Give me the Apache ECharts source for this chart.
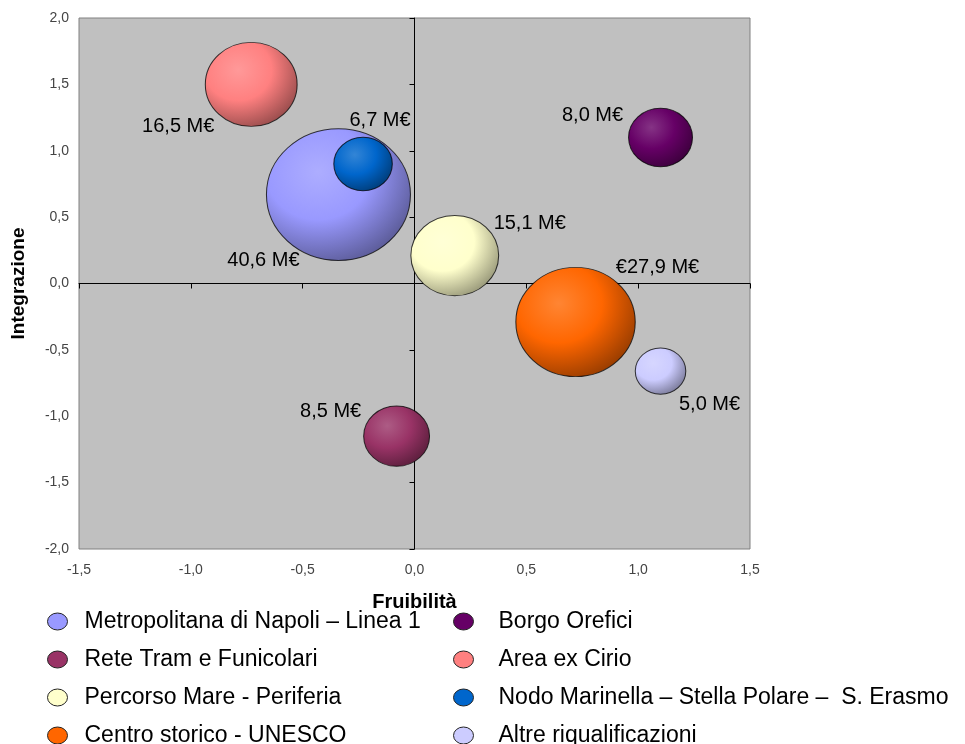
<!DOCTYPE html>
<html>
<head>
<meta charset="utf-8">
<script src="https://cdn.jsdelivr.net/npm/echarts@6/dist/echarts.min.js"></script>
<style>
  html, body { margin: 0; padding: 0; background: #fff; }
  #chart { width: 965px; height: 744px; }
</style>
</head>
<body>
<div id="chart"></div>
<script>
// dati
var progetti = ['Metropolitana di Napoli – Linea 1', 'Rete Tram e Funicolari', 'Percorso Mare - Periferia', 'Centro storico - UNESCO',
  'Borgo Orefici', 'Area ex Cirio', 'Nodo Marinella – Stella Polare –  S. Erasmo', 'Altre riqualificazioni'];
var fruibilita = [-0.34, -0.08, 0.18, 0.72, 1.10, -0.73, -0.23, 1.10];
var integrazione = [0.67, -1.15, 0.21, -0.29, 1.10, 1.50, 0.90, -0.66];
var importi = [40.6, 8.5, 15.1, 27.9, 8.0, 16.5, 6.7, 5.0];
var etichette = ['40,6 M€', '8,5 M€', '15,1 M€', '€27,9 M€', '8,0 M€', '16,5 M€', '6,7 M€', '5,0 M€'];
var xTicks = [-1.5, -1.0, -0.5, 0, 0.5, 1.0, 1.5];
var yTicks = [-2.0, -1.5, -1.0, -0.5, 0, 0.5, 1.0, 1.5, 2.0];

// stile
var colori = ['#9999ff', '#993366', '#ffffcc', '#ff6600', '#660066', '#ff8080', '#0066cc', '#ccccff'];
var spostamentiEtichette = [[-75, 66], [-66, -25], [75, -32], [82, -55], [-68, -22], [-73, 42], [17, -44], [49, 33]];

function mix(hex, target, t) {
  var a = parseInt(hex.slice(1), 16), b = parseInt(target.slice(1), 16);
  var r = Math.round(((a >> 16) & 255) * (1 - t) + ((b >> 16) & 255) * t);
  var g = Math.round(((a >> 8) & 255) * (1 - t) + ((b >> 8) & 255) * t);
  var bl = Math.round((a & 255) * (1 - t) + (b & 255) * t);
  return 'rgb(' + r + ',' + g + ',' + bl + ')';
}

function fmt(v) {
  return v.toFixed(1).replace('.', ',');
}

var chart = echarts.init(document.getElementById('chart'));

var series = progetti.map(function (nome, i) {
  return {
    name: nome,
    type: 'scatter',
    xAxisIndex: 0,
    yAxisIndex: 0,
    data: [[fruibilita[i], integrazione[i], importi[i]]],
    symbol: 'circle',
    symbolSize: function (v) {
      var w = 22.6 * Math.sqrt(v[2]);
      return [w, w * 0.915];
    },
    itemStyle: {
      opacity: 1,
      color: {
        type: 'radial', x: 0.36, y: 0.33, r: 0.72,
        colorStops: [
          { offset: 0, color: mix(colori[i], '#ffffff', 0.2) },
          { offset: 0.5, color: colori[i] },
          { offset: 1, color: mix(colori[i], '#000000', 0.4) }
        ]
      },
      borderColor: 'rgba(0,0,0,0.75)',
      borderWidth: 1
    },
    label: {
      show: true,
      position: 'inside',
      offset: spostamentiEtichette[i],
      formatter: etichette[i],
      color: '#000',
      fontSize: 20,
      fontFamily: 'Liberation Sans, Arial, sans-serif'
    },
    emphasis: { disabled: true }
  };
});

function legenda(indici, left, gap) {
  return {
    orient: 'vertical',
    left: left,
    top: 610,
    height: 140,
    padding: 0,
    itemWidth: 20,
    itemHeight: 17,
    itemGap: 15,
    symbolKeepAspect: false,
    icon: 'path://M0,8.5 A10,8.5 0 1 1 20,8.5 A10,8.5 0 1 1 0,8.5 Z',
    selectedMode: false,
    textStyle: {
      color: '#000',
      fontSize: 23,
      fontFamily: 'Liberation Sans, Arial, sans-serif',
      padding: [0, 0, 0, gap]
    },
    data: indici.map(function (i) {
      return {
        name: progetti[i],
        itemStyle: { color: colori[i], opacity: 1, borderColor: '#222', borderWidth: 1 }
      };
    })
  };
}

var option = {
  animation: false,
  grid: {
    left: 79, right: 215, top: 18, bottom: 195,
    show: true,
    backgroundColor: '#c0c0c0',
    borderColor: '#808080',
    borderWidth: 1
  },
  legend: [legenda([0, 1, 2, 3], 47, 12), legenda([4, 5, 6, 7], 453, 20)],
  xAxis: [{
    type: 'value',
    position: 'bottom',
    min: xTicks[0], max: xTicks[xTicks.length - 1], interval: 0.5,
    name: 'Fruibilità',
    nameLocation: 'middle',
    nameGap: 43,
    nameTextStyle: { color: '#000', fontSize: 20, fontWeight: 'bold', fontFamily: 'Liberation Sans, Arial, sans-serif' },
    axisLine: { show: false, onZero: false },
    axisTick: { show: false },
    splitLine: { show: false },
    axisLabel: { formatter: fmt, margin: 14, color: '#444', fontSize: 14, fontFamily: 'Liberation Sans, Arial, sans-serif' }
  }, {
    type: 'value',
    position: 'bottom',
    min: xTicks[0], max: xTicks[xTicks.length - 1], interval: 0.5,
    axisLine: { show: true, onZero: true, onZeroAxisIndex: 0, lineStyle: { color: '#000', width: 1 } },
    axisTick: { show: true, inside: false, length: 5, lineStyle: { color: '#000' } },
    axisLabel: { show: false },
    splitLine: { show: false }
  }],
  yAxis: [{
    type: 'value',
    position: 'left',
    min: yTicks[0], max: yTicks[yTicks.length - 1], interval: 0.5,
    name: 'Integrazione',
    nameLocation: 'middle',
    nameGap: 51,
    nameTextStyle: { color: '#000', fontSize: 19, fontWeight: 'bold', fontFamily: 'Liberation Sans, Arial, sans-serif' },
    axisLine: { show: false, onZero: false },
    axisTick: { show: false },
    splitLine: { show: false },
    axisLabel: { formatter: fmt, margin: 10, color: '#444', fontSize: 14, fontFamily: 'Liberation Sans, Arial, sans-serif' }
  }, {
    type: 'value',
    position: 'left',
    min: yTicks[0], max: yTicks[yTicks.length - 1], interval: 0.5,
    axisLine: { show: true, onZero: true, onZeroAxisIndex: 0, lineStyle: { color: '#000', width: 1 } },
    axisTick: { show: true, inside: false, length: 5, lineStyle: { color: '#000' } },
    axisLabel: { show: false },
    splitLine: { show: false }
  }],
  series: series
};

chart.setOption(option);
</script>
</body>
</html>
